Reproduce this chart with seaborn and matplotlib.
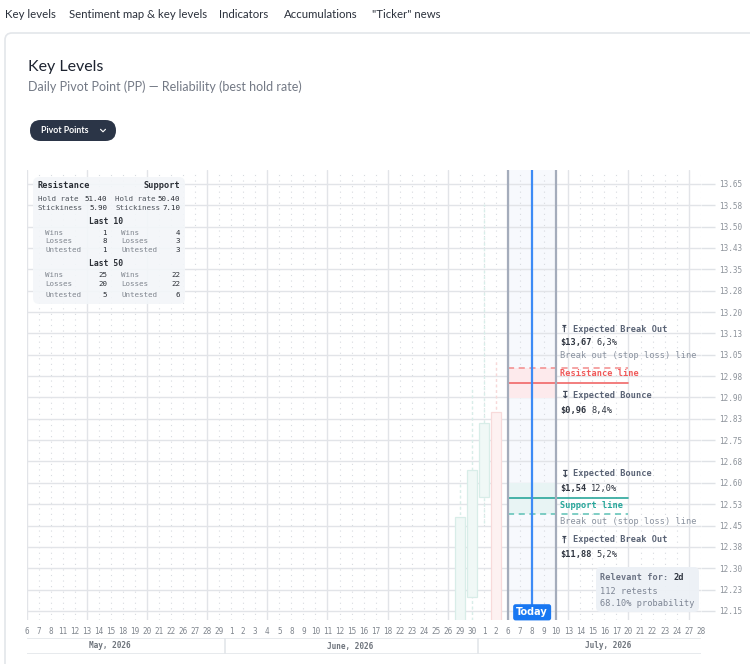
import matplotlib
matplotlib.use("Agg")
import matplotlib.pyplot as plt
import seaborn as sns
import numpy as np
import pandas as pd
from matplotlib.patches import FancyBboxPatch

# ---------------- data ----------------
may_days = [6, 7, 8, 11, 12, 13, 14, 15, 18, 19, 20, 21, 22, 26, 27, 28, 29]
june_days = [1, 2, 3, 4, 5, 8, 9, 10, 11, 12, 15, 16, 17, 18, 22, 23, 24, 25, 26, 29, 30]
july_days = [1, 2, 6, 7, 8, 9, 10, 13, 14, 15, 16, 17, 20, 21, 22, 23, 24, 27, 28]
day_labels = [str(d) for d in may_days + june_days + july_days]
month_labels = ["May, 2026", "June, 2026", "July, 2026"]
month_label_pos = [6.9, 26.9, 48.3]
month_breaks = [16.5, 37.5]

y_tick_values = [13.65, 13.575, 13.50, 13.425, 13.35, 13.275, 13.20, 13.125, 13.05, 12.975,
                 12.90, 12.825, 12.75, 12.675, 12.60, 12.525, 12.45, 12.375, 12.30, 12.225, 12.15]
y_tick_labels = ["13.65", "13.58", "13.50", "13.43", "13.35", "13.28", "13.20", "13.13", "13.05", "12.98",
                 "12.90", "12.83", "12.75", "12.68", "12.60", "12.53", "12.45", "12.38", "12.30", "12.23", "12.15"]

candle_idx = [36, 37, 38, 39]
candle_open = [12.05, 12.20, 12.55, 12.85]
candle_close = [12.48, 12.645, 12.81, 12.05]
candle_high = [12.60, 12.93, 13.58, 13.03]
candle_low = [11.98, 12.08, 12.46, 11.98]

window_start, today_idx, window_end = 40, 42, 44
level_end = 50
resistance = 12.951
resistance_break = 13.004
resistance_band_low = 12.898
support = 12.547
support_break = 12.491
support_band_high = 12.600

# ---------------- style ----------------
sns.set_theme(style="white")
plt.rcParams['font.family'] = ['Lato', 'DejaVu Sans']
MONO = ['DejaVu Sans Mono', 'DejaVu Sans']
ICON = ['DejaVu Sans', 'Noto Sans', 'Noto Sans CJK SC', 'Liberation Sans', 'Roboto',
        'Open Sans', 'Inter', 'DejaVu Serif', 'Liberation Serif']

W, H = 750, 664
fig = plt.figure(figsize=(W / 100, H / 100), dpi=100)

# background / page axes
bg = fig.add_axes([0, 0, 1, 1], zorder=0)
bg.set_xlim(0, W); bg.set_ylim(H, 0); bg.axis('off')
bg.add_patch(FancyBboxPatch((5, 33), 800, 700, boxstyle="round,pad=0,rounding_size=7",
                            fc='white', ec='#e3e6ea', lw=1.2))
nav = [("Key levels", 5), ("Sentiment map & key levels", 69), ("Indicators", 219),
       ("Accumulations", 284), ("\"Ticker\" news", 372)]
for s, x in nav:
    bg.text(x, 14, s, fontsize=8.2, color='#2a303b', va='center', ha='left')
bg.text(28, 67, "Key Levels", fontsize=11.5, color='#1d2330', va='center', ha='left')
bg.text(28, 87, "Daily Pivot Point (PP) \u2014 Reliability (best hold rate)", fontsize=9,
        color='#737985', va='center', ha='left')
bg.add_patch(FancyBboxPatch((30, 120), 86, 21, boxstyle="round,pad=0,rounding_size=10.5",
                            fc='#2b3547', ec='none'))
bg.text(41, 130.5, "Pivot Points", fontsize=6.3, color='white', weight='bold', va='center', ha='left')
bg.plot([100.5, 103, 105.5], [129.3, 131.8, 129.3], color='white', lw=0.8)

# ---------------- main chart ----------------
X0, X1, YT, YB = 26.5, 700.7, 170, 620
ax = fig.add_axes([X0 / W, 1 - YB / H, (X1 - X0) / W, (YB - YT) / H], zorder=1)
ax.patch.set_alpha(0)
ax.set_xlim(0, 56)
ax.set_ylim(12.118, 13.699)

ax.axvspan(window_start, window_end, color='#f7f9fd', zorder=0.2, lw=0)
for i in range(57):
    if i % 5 == 0:
        ax.axvline(i, color='#e2e4e8', lw=1.0, zorder=0.5)
    else:
        ax.axvline(i, color='#d8dbe0', lw=0.8, ls=(0, (1, 4)), zorder=0.5)
for v in y_tick_values:
    ax.axhline(v, color='#e2e4e8', lw=1.0, zorder=0.5)

# candles
for i, o, c, h, l in zip(candle_idx, candle_open, candle_close, candle_high, candle_low):
    up = c >= o
    wick = '#d8eee9' if up else '#f8d8d8'
    face = '#f0f8f6' if up else '#fdf1f1'
    edge = '#d8ede8' if up else '#f8dada'
    ax.vlines(i, l, h, color=wick, lw=1.0, ls=(0, (2, 2)), zorder=1)
    ax.bar(i, abs(c - o), bottom=min(o, c), width=0.85, facecolor=face, edgecolor=edge,
           lw=0.9, zorder=2)

# bands
ax.fill_between([window_start, window_end], resistance_band_low, resistance_break,
                color='#fdeaec', lw=0, zorder=1.5)
ax.fill_between([window_start, window_end], support_break, support_band_high,
                color='#e8f4f4', lw=0, zorder=1.5)

# level lines via seaborn
seg_x = [window_start, level_end]
sns.lineplot(x=seg_x, y=[resistance, resistance], ax=ax, color='#f06767', lw=1.2, zorder=3)
sns.lineplot(x=seg_x, y=[resistance_break, resistance_break], ax=ax, color='#f28b8b', lw=1.1,
             zorder=3).lines[-1].set_linestyle((0, (4, 3)))
sns.lineplot(x=seg_x, y=[support, support], ax=ax, color='#2aa79b', lw=1.2, zorder=3)
sns.lineplot(x=seg_x, y=[support_break, support_break], ax=ax, color='#5cc1b5', lw=1.1,
             zorder=3).lines[-1].set_linestyle((0, (4, 3)))

ax.axvline(window_start, color='#a4acbb', lw=1.6, zorder=4)
ax.axvline(window_end, color='#a4acbb', lw=1.6, zorder=4)
ax.axvline(today_idx, color='#3d8bf5', lw=1.6, zorder=4)

ax.text(today_idx, 12.145, "Today", ha='center', va='center', color='white', fontsize=7,
        weight='bold', family='DejaVu Sans', zorder=6,
        bbox=dict(boxstyle='round,pad=0.32,rounding_size=0.25', fc='#1877f2', ec='none'))

# axes ticks
for s in ax.spines.values():
    s.set_visible(False)
ax.set_yticks(y_tick_values)
ax.set_yticklabels(y_tick_labels, fontfamily=MONO)
ax.yaxis.tick_right()
ax.tick_params(axis='y', length=10, width=1, color='#dfe2e6', labelsize=5.5,
               labelcolor='#8c929a', pad=3, right=True, left=False)
ax.set_xticks(range(57))
ax.set_xticklabels(day_labels, fontfamily=MONO)
ax.tick_params(axis='x', length=0, labelsize=5.5, labelcolor='#80868e', pad=5)
ax.set_xlabel(""); ax.set_ylabel("")

# month row
mx = fig.add_axes([X0 / W, 1 - 654 / H, (X1 - X0) / W, 16 / H], zorder=1)
mx.set_xlim(0, 56); mx.set_ylim(0, 1); mx.axis('off')
mx.axhline(0, color='#e3e6ea', lw=1.2)
mx.axhline(1, color='#e3e6ea', lw=1.2)
for b in month_breaks:
    mx.axvline(b, color='#e3e6ea', lw=1.2)
for s, p in zip(month_labels, month_label_pos):
    mx.text(p, 0.5, s, ha='center', va='center', fontsize=5.6, family=MONO, color='#6e747c',
            weight='bold')

# ---------------- overlays ----------------
fg = fig.add_axes([0, 0, 1, 1], zorder=5)
fg.set_xlim(0, W); fg.set_ylim(H, 0); fg.axis('off'); fg.patch.set_alpha(0)

# stats box
fg.add_patch(FancyBboxPatch((33, 177), 152, 127, boxstyle="round,pad=0,rounding_size=6",
                            fc='#f3f6f9', ec='none', alpha=0.9))
dark, mid, light = '#2b2f36', '#4e545c', '#80868f'
fs = 5.4
fg.text(38, 185, "Resistance", fontsize=6.2, weight='bold', family=MONO, color=dark, va='center')
fg.text(180, 185, "Support", fontsize=6.2, weight='bold', family=MONO, color=dark, va='center', ha='right')
fg.text(38, 199, "Hold rate", fontsize=fs, family=MONO, color=mid, va='center')
fg.text(107, 199, "51.40", fontsize=fs, family=MONO, color=dark, va='center', ha='right')
fg.text(115, 199, "Hold rate", fontsize=fs, family=MONO, color=mid, va='center')
fg.text(180, 199, "50.40", fontsize=fs, family=MONO, color=dark, va='center', ha='right')
fg.text(38, 208, "Stickiness", fontsize=fs, family=MONO, color=mid, va='center')
fg.text(107, 208, "5.90", fontsize=fs, family=MONO, color=dark, va='center', ha='right')
fg.text(115, 208, "Stickiness", fontsize=fs, family=MONO, color=mid, va='center')
fg.text(180, 208, "7.10", fontsize=fs, family=MONO, color=dark, va='center', ha='right')

stat_names = ["Wins", "Losses", "Untested"]
last10_res = [1, 8, 1]
last10_sup = [4, 3, 3]
last50_res = [25, 20, 5]
last50_sup = [22, 22, 6]
for title, ty, rows_y, res, sup in [("Last 10", 221, [233, 241, 250], last10_res, last10_sup),
                                    ("Last 50", 263, [275, 284, 295], last50_res, last50_sup)]:
    fg.text(106, ty, title, fontsize=5.8, weight='bold', family=MONO, color=dark, va='center', ha='center')
    for name, y, r, s in zip(stat_names, rows_y, res, sup):
        fg.text(45, y, name, fontsize=fs, family=MONO, color=light, va='center')
        fg.text(107, y, str(r), fontsize=fs, family=MONO, color=dark, va='center', ha='right')
        fg.text(121, y, name, fontsize=fs, family=MONO, color=light, va='center')
        fg.text(180, y, str(s), fontsize=fs, family=MONO, color=dark, va='center', ha='right')

# annotations
afs = 6.2
cw = 0.602 * afs * 100 / 72
slate, grey, txt = '#5b6476', '#8a929f', '#2f3540'


def heading(y, s, icon):
    fg.text(560, y, icon, fontsize=7.5, family=ICON, weight='bold', color='#3e4656',
            va='center', ha='left')
    fg.text(573, y, s, fontsize=afs, family=MONO, weight='bold', color=slate, va='center')


def value(y, price, pct):
    fg.text(560, y, price, fontsize=afs, family=MONO, weight='bold', color=txt, va='center')
    fg.text(560 + (len(price) + 1) * cw, y, pct, fontsize=afs, family=MONO, color=txt, va='center')


heading(329, "Expected Break Out", "\u2912")
value(343, "$13,67", "6,3%")
fg.text(560, 356, "Break out (stop loss) line", fontsize=afs, family=MONO, color=grey, va='center')
fg.text(560, 374, "Resistance line", fontsize=afs, family=MONO, weight='bold', color='#f05a5a', va='center')
heading(395, "Expected Bounce", "\u21a7")
value(410, "$0,96", "8,4%")

heading(474, "Expected Bounce", "\u21a7")
value(489, "$1,54", "12,0%")
fg.text(560, 506, "Support line", fontsize=afs, family=MONO, weight='bold', color='#26a69a', va='center')
fg.text(560, 522, "Break out (stop loss) line", fontsize=afs, family=MONO, color=grey, va='center')
heading(540, "Expected Break Out", "\u2912")
value(555, "$11,88", "5,2%")

# relevant box
fg.add_patch(FancyBboxPatch((596, 567), 103, 45, boxstyle="round,pad=0,rounding_size=5",
                            fc='#edf1f6', ec='none', alpha=0.95))
fg.text(600, 577, "Relevant for:", fontsize=afs, family=MONO, weight='bold', color='#6b7384', va='center')
fg.text(673, 577, "2d", fontsize=afs, family=MONO, weight='bold', color=txt, va='center')
fg.text(600, 592, "112 retests", fontsize=afs, family=MONO, color='#7d8594', va='center')
fg.text(600, 604, "68.10% probability", fontsize=afs, family=MONO, color='#7d8594', va='center')

fig.savefig("out.png", dpi=100)
